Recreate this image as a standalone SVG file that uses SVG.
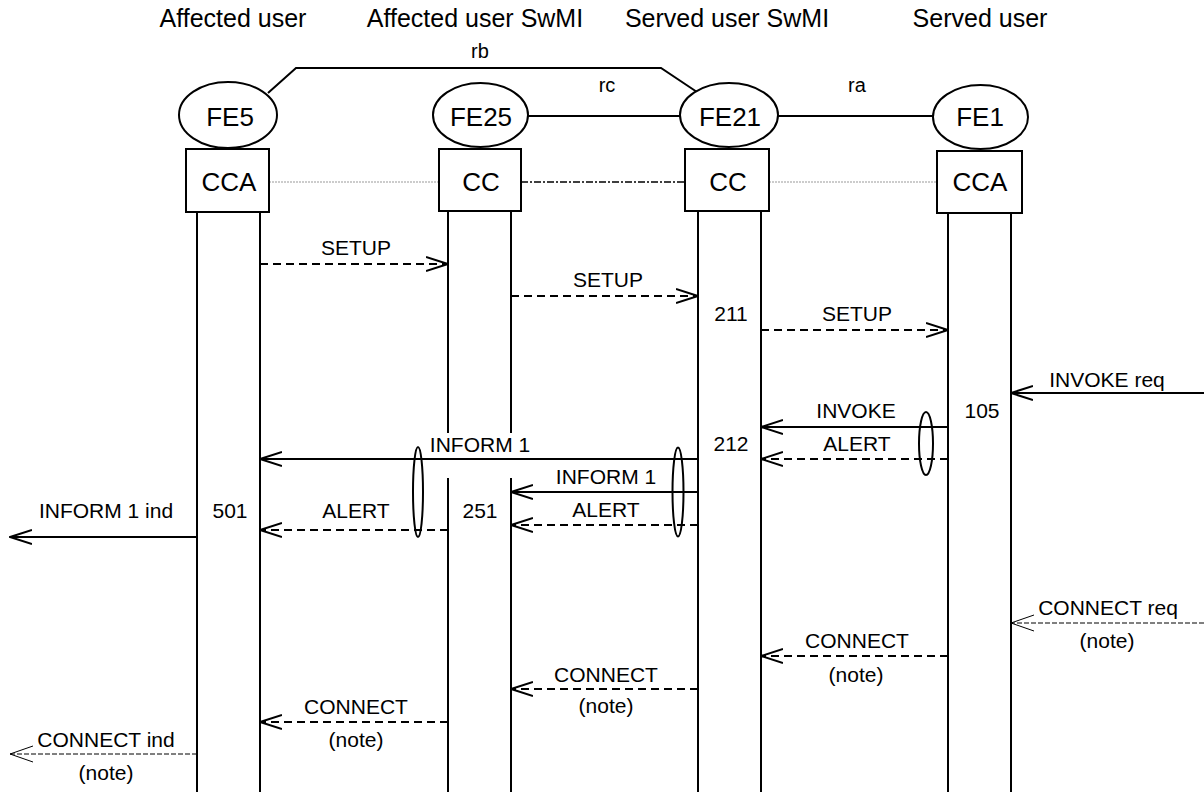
<svg xmlns="http://www.w3.org/2000/svg" width="1204" height="792" viewBox="0 0 1204 792">
<style>
text{font-family:"Liberation Sans",Arial,sans-serif;fill:#000}
.hd{font-size:25px;text-anchor:middle}
.fe{font-size:26px;text-anchor:middle}
.lb{font-size:21px;text-anchor:middle}
.rl{font-size:20px;text-anchor:middle}
.sh{fill:#fff;stroke:#000;stroke-width:2}
.ll{stroke:#000;stroke-width:2;fill:none}
.msg{stroke:#000;stroke-width:2;fill:none;marker-end:url(#ah)}
.dsh{stroke-dasharray:8 5}
.thin{stroke:#000;stroke-width:1;stroke-dasharray:5 2;fill:none;marker-end:url(#aht)}
.grp{fill:none;stroke:#000;stroke-width:2}
.ref{fill:none;stroke:#000;stroke-width:2}
.dot{stroke:#999;stroke-width:1;stroke-dasharray:2 1;fill:none}
.dd{stroke:#000;stroke-width:1.5;stroke-dasharray:7 2 2 2;fill:none}
</style>
<defs>
<marker id="ah" viewBox="0 0 23 16" refX="22" refY="8" markerWidth="23" markerHeight="16" markerUnits="userSpaceOnUse" orient="auto">
<path d="M0,1 L22,8 L0,15" fill="none" stroke="#000" stroke-width="2" stroke-dasharray="none"/>
</marker>
<marker id="aht" viewBox="0 0 24 18" refX="23" refY="9" markerWidth="24" markerHeight="18" markerUnits="userSpaceOnUse" orient="auto">
<path d="M0,1 L23,9 L0,17" fill="none" stroke="#000" stroke-width="1" stroke-dasharray="none"/>
</marker>
</defs>
<rect width="1204" height="792" fill="#fff"/>

<g id="headers">
<text class="hd" x="233" y="27">Affected user</text>
<text class="hd" x="475" y="27">Affected user SwMI</text>
<text class="hd" x="727" y="27">Served user SwMI</text>
<text class="hd" x="980" y="27">Served user</text>
</g>

<g id="connectors">
<polyline class="ref" points="268,93 296,68 661,68 697,92"/>
<line class="ref" x1="528" y1="116" x2="680" y2="116"/>
<line class="ref" x1="778" y1="116" x2="933" y2="116"/>
<text class="rl" x="480" y="58">rb</text>
<text class="rl" x="607" y="92">rc</text>
<text class="rl" x="857" y="92">ra</text>
<line class="dot" x1="269" y1="182" x2="439" y2="182"/>
<line class="dd" x1="521" y1="182" x2="685" y2="182"/>
<line class="dot" x1="769" y1="182" x2="937" y2="182"/>

<line class="msg dsh" x1="260" y1="264" x2="448" y2="264"/>
<line class="msg dsh" x1="511" y1="296" x2="698" y2="296"/>
<line class="msg dsh" x1="761" y1="330" x2="948" y2="330"/>
<line class="msg" x1="1204" y1="393" x2="1011" y2="393"/>
<line class="msg" x1="948" y1="427" x2="761" y2="427"/>
<line class="msg dsh" x1="948" y1="459" x2="761" y2="459"/>
<line class="msg" x1="698" y1="459" x2="260" y2="459"/>
<line class="msg" x1="698" y1="492" x2="511" y2="492"/>
<line class="msg dsh" x1="698" y1="525" x2="511" y2="525"/>
<line class="msg dsh" x1="448" y1="530" x2="260" y2="530"/>
<line class="msg" x1="197" y1="537" x2="10" y2="537"/>
<line class="thin" x1="1204" y1="623" x2="1011" y2="623"/>
<line class="msg dsh" x1="948" y1="656" x2="761" y2="656"/>
<line class="msg dsh" x1="698" y1="689" x2="511" y2="689"/>
<line class="msg dsh" x1="448" y1="722" x2="260" y2="722"/>
<line class="thin" x1="197" y1="754" x2="10" y2="754"/>

<ellipse class="grp" cx="418" cy="492" rx="5" ry="45"/>
<ellipse class="grp" cx="678" cy="492" rx="5.5" ry="44.5"/>
<ellipse class="grp" cx="926" cy="443.5" rx="7" ry="31.5"/>

<text class="lb" x="356" y="255">SETUP</text>
<text class="lb" x="608" y="287">SETUP</text>
<text class="lb" x="731" y="321">211</text>
<text class="lb" x="857" y="321">SETUP</text>
<text class="lb" x="1107" y="387">INVOKE req</text>
<text class="lb" x="982" y="418">105</text>
<text class="lb" x="856" y="418">INVOKE</text>
<text class="lb" x="857" y="451">ALERT</text>
<text class="lb" x="731" y="451">212</text>
<text class="lb" x="480" y="452">INFORM 1</text>
<text class="lb" x="606" y="484">INFORM 1</text>
<text class="lb" x="606" y="517">ALERT</text>
<text class="lb" x="106" y="518">INFORM 1 ind</text>
<text class="lb" x="230" y="518">501</text>
<text class="lb" x="356" y="518">ALERT</text>
<text class="lb" x="480" y="518">251</text>
<text class="lb" x="1108" y="615">CONNECT req</text>
<text class="lb" x="1107" y="648">(note)</text>
<text class="lb" x="857" y="648">CONNECT</text>
<text class="lb" x="856" y="682">(note)</text>
<text class="lb" x="606" y="682">CONNECT</text>
<text class="lb" x="606" y="713">(note)</text>
<text class="lb" x="356" y="714">CONNECT</text>
<text class="lb" x="356" y="747">(note)</text>
<text class="lb" x="106" y="747">CONNECT ind</text>
<text class="lb" x="106" y="780">(note)</text>
</g>

<g id="FE5">
<ellipse class="sh" cx="228" cy="115" rx="49" ry="33"/>
<text class="fe" x="230" y="126">FE5</text>
<rect class="sh" x="186" y="149" width="83" height="63"/>
<text class="fe" x="229" y="191">CCA</text>
<line class="ll" x1="197" y1="212" x2="197" y2="792"/>
<line class="ll" x1="260" y1="212" x2="260" y2="792"/>
</g>

<g id="FE25">
<ellipse class="sh" cx="480.5" cy="115" rx="47.5" ry="32"/>
<text class="fe" x="481" y="126">FE25</text>
<rect class="sh" x="439" y="149" width="82" height="62"/>
<text class="fe" x="481" y="191">CC</text>
<line class="ll" x1="448" y1="211" x2="448" y2="433"/>
<line class="ll" x1="511" y1="211" x2="511" y2="433"/>
<line class="ll" x1="448" y1="478" x2="448" y2="792"/>
<line class="ll" x1="511" y1="478" x2="511" y2="792"/>
</g>

<g id="FE21">
<ellipse class="sh" cx="729" cy="115" rx="49" ry="32"/>
<text class="fe" x="730" y="126">FE21</text>
<rect class="sh" x="685" y="149" width="84" height="62"/>
<text class="fe" x="728" y="191">CC</text>
<line class="ll" x1="698" y1="211" x2="698" y2="792"/>
<line class="ll" x1="761" y1="211" x2="761" y2="792"/>
</g>

<g id="FE1">
<ellipse class="sh" cx="980.5" cy="117" rx="47.5" ry="32"/>
<text class="fe" x="980" y="126">FE1</text>
<rect class="sh" x="937" y="151" width="85" height="62"/>
<text class="fe" x="980" y="191">CCA</text>
<line class="ll" x1="948" y1="213" x2="948" y2="792"/>
<line class="ll" x1="1011" y1="213" x2="1011" y2="792"/>
</g>
</svg>
